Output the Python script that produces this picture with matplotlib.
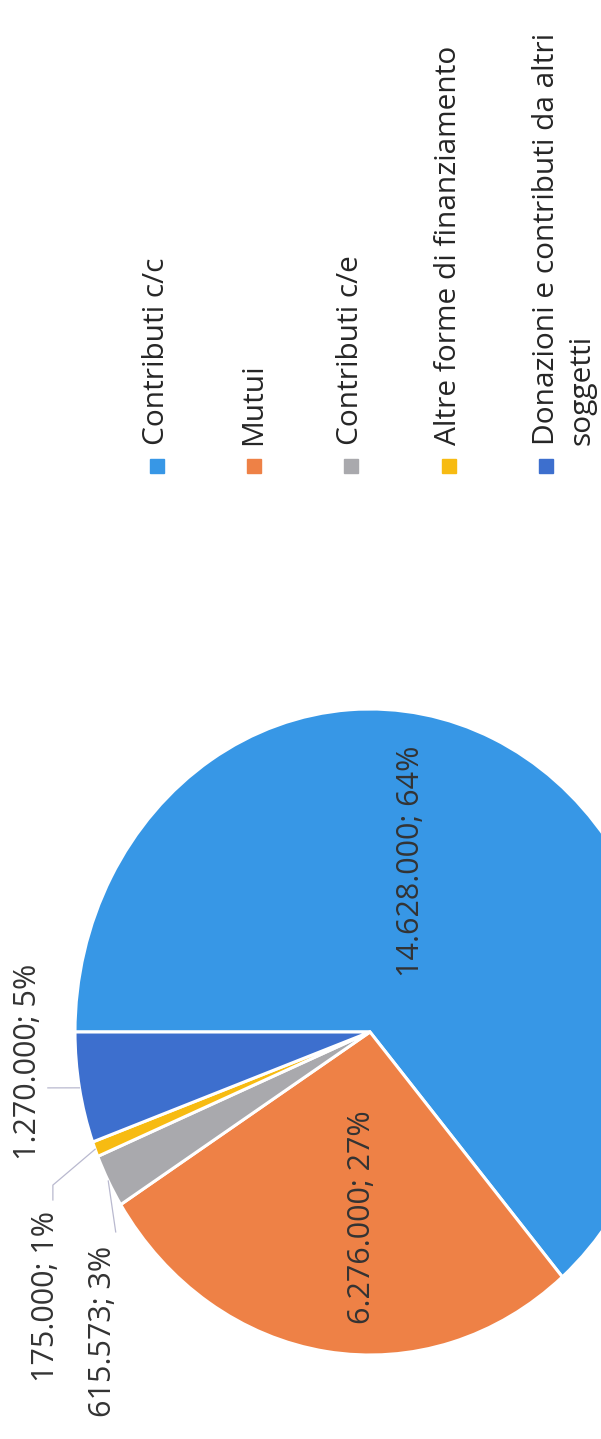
import textwrap
import numpy as np
import matplotlib
matplotlib.use("Agg")
import matplotlib.pyplot as plt
from matplotlib.patches import Rectangle

plt.rcParams['font.family'] = ['Open Sans', 'DejaVu Sans']

# data
categories = ["Contributi c/c", "Mutui", "Contributi c/e",
              "Altre forme di finanziamento",
              "Donazioni e contributi da altri soggetti"]
values = [14628000, 6276000, 615573, 175000, 1270000]
pct_labels = [64, 27, 3, 1, 5]
colors = ["#3797e6", "#ee8146", "#a9a9ad", "#f7bb12", "#3d6fce"]

W, H = 601, 1439
fig = plt.figure(figsize=(W / 100, H / 100), dpi=100)

# pie axes (squashed: the scan is stretched vertically), centre at px (370, 1032)
cx, cy, rx, ry = 370, 1032, 295, 323
ax = fig.add_axes([(cx - rx) / W, (H - cy - ry) / H, 2 * rx / W, 2 * ry / H])
wedges, _ = ax.pie(values, colors=colors, startangle=180, counterclock=False,
                   wedgeprops=dict(edgecolor="white", linewidth=2.2))
ax.set_aspect("auto")
ax.set_xlim(-1, 1)
ax.set_ylim(-1, 1)


def fmt(v, p):
    return "{:,}".format(v).replace(",", ".") + "; " + str(p) + "%"


# label centres (data units of the pie axes)
label_pos = [(0.139, 0.529), (-0.027, -0.573), (-0.905, -0.926),
             (-1.098, -0.820), (-1.159, -0.093)]
# leader lines start (None = label inside the slice)
leader_start = [None, None, [(-0.862, -0.619)],
                [(-1.075, -0.520), (-1.075, -0.474)],
                [(-1.092, -0.173)]]

for i, w in enumerate(wedges):
    lx, ly = label_pos[i]
    ax.text(lx, ly, fmt(values[i], pct_labels[i]), rotation=90,
            ha="center", va="center", fontsize=22, color="#333333",
            clip_on=False)
    if leader_start[i] is not None:
        mid = np.deg2rad((w.theta1 + w.theta2) / 2)
        pts = leader_start[i] + [(np.cos(mid), np.sin(mid))]
        xs, ys = zip(*pts)
        ax.plot(xs, ys, color="#b9b9cf", lw=0.9, clip_on=False)

# legend, drawn rotated like the rest of the scan
leg_x = [157, 254, 351, 449, 546]
for i, name in enumerate(categories):
    x = leg_x[i]
    fig.add_artist(Rectangle(((x - 7) / W, (H - 473) / H), 14 / W, 14 / H,
                             color=colors[i], transform=fig.transFigure))
    for j, line in enumerate(textwrap.wrap(name, 31)):
        fig.text((x + j * 36) / W, (H - 445) / H, line, rotation=90,
                 rotation_mode="anchor", ha="left", va="center",
                 fontsize=21.5, color="#262626")

fig.savefig("out.png", dpi=100)
